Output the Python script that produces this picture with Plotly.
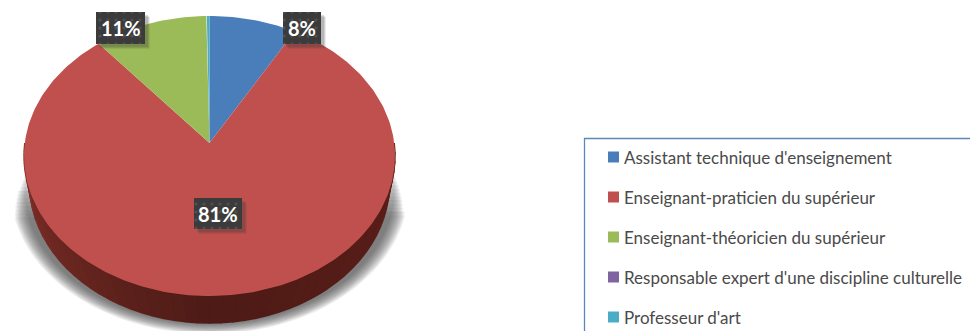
import numpy as np
import plotly.graph_objects as go

categories = ["Assistant technique d'enseignement", "Enseignant-praticien du supérieur",
              "Enseignant-théoricien du supérieur", "Responsable expert d'une discipline culturelle",
              "Professeur d'art"]
values = [8.3, 80.6, 10.8, 0.05, 0.25]
colors = ["#4a7ebb", "#c0504d", "#9bbb59", "#8064a2", "#4bacc6"]
label_boxes = {0: (283, 321, 12, 44), 1: (194, 242, 198, 229), 2: (96, 145, 12, 44)}

W, H = 970, 331
CX, CY = 209.5, 143.0      # apex of the tilted pie, in px
A, B, K = 138.8, 184.7, 0.0929


def rim(theta):
    """Perspective projection of the unit circle; theta clockwise from 12 o'clock."""
    X, Y = np.sin(theta), np.cos(theta)
    d = 1 + K * Y
    return CX + B * X / d, CY - A * Y / d


fig = go.Figure()


def poly(x, y, color, lw=0, **kw):
    fig.add_trace(go.Scatter(x=list(x), y=list(y), mode="lines", fill="toself", fillcolor=color,
                             line=dict(width=lw, color=color), hoverinfo="skip", showlegend=False, **kw))


# soft ground shadow
t = np.linspace(0, 2 * np.pi, 240)
for i in range(14):
    f = i / 13
    rx, ry = 199 - 14 * f, 145 - 10 * f
    ex, ey = 209.5 + rx * np.cos(t), 189 + ry * np.sin(t)
    keep = ey >= 215 - 45 * f
    poly(ex[keep], ey[keep], "rgba(70,70,70,0.075)")

# side wall, strips from left to right
n = 48
th = np.linspace(np.pi * 0.5, np.pi * 1.5, n + 1)
top_x, top_y = rim(th)
bot_x = 209.5 + 180 * np.sin(th)
bot_y = 183 - 140 * np.cos(th)
side_l = np.array([0x80, 0x30, 0x2a])
side_m = np.array([0x4e, 0x1b, 0x16])
side_r = np.array([0x5c, 0x1f, 0x1a])
for i in range(n):
    s = i / (n - 1)
    c = side_r + (side_m - side_r) * min(s * 2, 1) if s < .5 else side_m + (side_l - side_m) * (s * 2 - 1)
    col = "rgb(%d,%d,%d)" % tuple(c)
    poly([top_x[i], top_x[i + 1], bot_x[i + 1], bot_x[i]],
         [top_y[i], top_y[i + 1], bot_y[i + 1], bot_y[i]], col, lw=1.5)

# top surface wedges, driven by the values
total = sum(values)
start = 0.0
for v, c in zip(values, colors):
    end = start + v / total * 2 * np.pi
    a = np.linspace(start, end, max(3, int(v * 3)))
    x, y = rim(a)
    poly(np.r_[CX, x, CX], np.r_[CY, y, CY], c)
    start = end

# value labels: shadow, dotted box, text
for i, (x0, x1, y0, y1) in label_boxes.items():
    for d, al in ((5, .10), (4, .14), (3, .18)):
        poly([x0 + d, x1 + d, x1 + d, x0 + d], [y0 + d, y0 + d, y1 + d, y1 + d], f"rgba(60,60,60,{al})")
    fig.add_trace(go.Scatter(x=[x0, x1, x1, x0, x0], y=[y0, y0, y1, y1, y0], mode="lines", fill="toself",
                             fillcolor="#3b3b3b", line=dict(width=0), hoverinfo="skip", showlegend=False,
                             fillpattern=dict(shape=".", size=8, solidity=0.12, fgcolor="#666666",
                                              bgcolor="#3b3b3b")))
    fig.add_annotation(x=(x0 + x1) / 2, y=(y0 + y1) / 2, text=f"{round(values[i])}%", showarrow=False,
                       font=dict(family="Lato", size=20, color="white", weight="bold"))

# legend
fig.add_shape(type="rect", x0=584.5, x1=1000, y0=138.5, y1=400, line=dict(color="#5b87bd", width=1.3),
              fillcolor="white", layer="below")
leg_y = [157, 197, 237, 277, 317]
fig.add_trace(go.Scatter(x=[613.5] * 5, y=leg_y, mode="markers",
                         marker=dict(symbol="square", size=11, color=colors, line=dict(width=0)),
                         hoverinfo="skip", showlegend=False))
for c, y in zip(categories, leg_y):
    fig.add_annotation(x=621.5, y=y, text=c, showarrow=False, xanchor="left", yanchor="middle",
                       font=dict(family="Lato", size=17, color="#4a4a4a"))

fig.update_layout(width=W, height=H, margin=dict(l=0, r=0, t=0, b=0), paper_bgcolor="white",
                  plot_bgcolor="white", showlegend=False,
                  xaxis=dict(range=[0, W], visible=False, fixedrange=True),
                  yaxis=dict(range=[H, 0], visible=False, fixedrange=True))
fig.write_html("out.html", config=dict(displayModeBar=False),
               post_script="document.body.style.margin='0';document.body.style.overflow='hidden';")
